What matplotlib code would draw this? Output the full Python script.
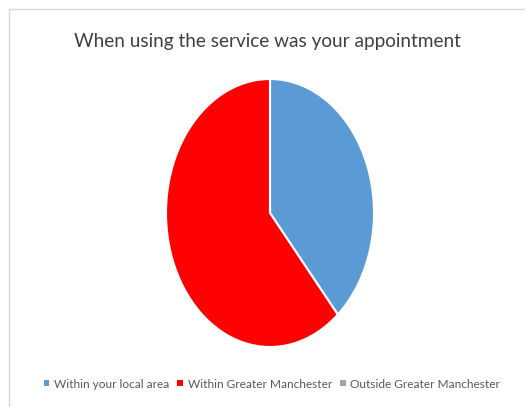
import matplotlib
matplotlib.use("Agg")
import matplotlib.pyplot as plt
from matplotlib.lines import Line2D
from matplotlib.patches import Patch

categories = ["Within your local area", "Within Greater Manchester", "Outside Greater Manchester"]
values = [38.7, 61.3, 0.0]
colors = ["#5B9BD5", "#FF0000", "#A5A5A5"]
title = "When using the service was your appointment"

plt.rcParams['font.family'] = ['Lato', 'DejaVu Sans']

W, H = 525, 407
fig = plt.figure(figsize=(W / 100, H / 100), dpi=100)

# frame lines
fig.add_artist(Line2D([8.5 / W, 8.5 / W], [0, (H - 8.5) / H], color="#D9D9D9", lw=1))
fig.add_artist(Line2D([8.5 / W, 1], [(H - 8.5) / H, (H - 8.5) / H], color="#D9D9D9", lw=1))

ax = fig.add_axes([166 / W, (H - 347) / H, 208 / W, 268 / H])
ax.pie(values, colors=colors, startangle=90, counterclock=False,
       wedgeprops=dict(edgecolor="white", linewidth=1.5))
ax.set_aspect('auto')
ax.set_xlim(-1, 1)
ax.set_ylim(-1, 1)
ax.axis('off')

fig.text(267 / W, 1 - 42 / H, title, ha='center', va='center', fontsize=13.7, color="#404040")

handles = [Patch(facecolor=c, edgecolor='none') for c in colors]
fig.legend(handles, categories, loc='center', bbox_to_anchor=(272 / W, 1 - 384 / H), ncol=3,
           frameon=False, fontsize=8.6, handlelength=0.45, handleheight=0.45, handletextpad=0.4,
           columnspacing=0.7, labelcolor="#595959")

fig.savefig("out.png", dpi=100, facecolor="white")
